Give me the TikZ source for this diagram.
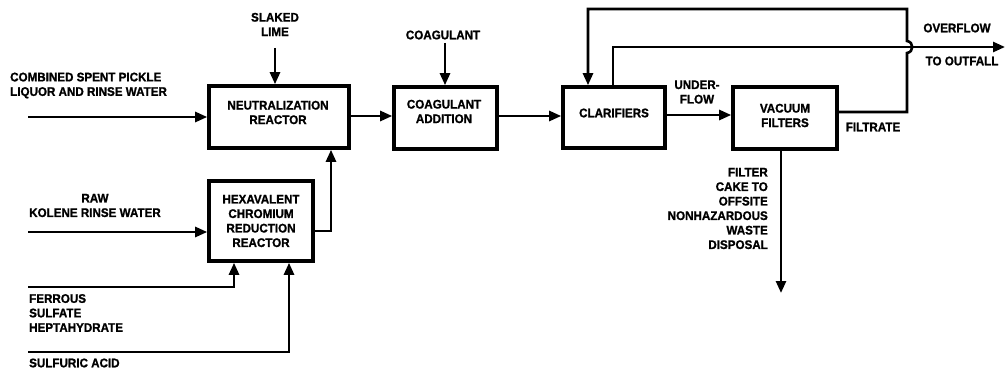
\documentclass[tikz,border=0pt]{standalone}
\usepackage{fontspec}
\setmainfont{Liberation Sans}[UprightFont={* Bold}, BoldFont={* Bold}, FakeStretch=0.93, FakeBold=1.2]
\usetikzlibrary{arrows.meta}
\begin{document}
\begin{tikzpicture}[x=1pt,y=-1pt,
  font=\fontsize{12.5}{14.5}\selectfont,
  proc/.style={draw, line width=3.6pt, inner sep=0pt},
  flow/.style={line width=2.6pt, -{Triangle[length=12pt,width=10pt]}},
  lbl/.style={inner sep=0pt, align=center},
  lbll/.style={inner sep=0pt, align=left},
  lblr/.style={inner sep=0pt, align=right},
]
\useasboundingbox (0,0) rectangle (1006,369);

% process units
\node[proc, minimum width=140pt, minimum height=62pt] (neut) at (279,117) {};
\node[proc, minimum width=103pt, minimum height=62pt] (coag) at (445.5,118) {};
\node[proc, minimum width=102pt, minimum height=61pt] (clar) at (614,117.5) {};
\node[proc, minimum width=104pt, minimum height=62pt] (vac) at (785,118) {};
\node[proc, minimum width=104pt, minimum height=80pt] (hex) at (261,221) {};

% unit captions
\node[lbl] (neut-t) at (278,112.5) {NEUTRALIZATION\\REACTOR};
\node[lbl] (coag-t) at (444,111.5) {COAGULANT\\ADDITION};
\node[lbl] (clar-t) at (614,113) {CLARIFIERS};
\node[lbl] (vac-t) at (785,115.5) {VACUUM\\FILTERS};
\node[lbl] (hex-t) at (261,221) {HEXAVALENT\\CHROMIUM\\REDUCTION\\REACTOR};

% stream labels
\node[lbll, anchor=west] (csp-l) at (10,85.5) {COMBINED SPENT PICKLE\\LIQUOR AND RINSE WATER};
\node[lbl] (lime-l) at (275,24.5) {SLAKED\\LIME};
\node[lbl] (coagin-l) at (443,35) {COAGULANT};
\node[lbl] (raw-l) at (95,205.5) {RAW\\KOLENE RINSE WATER};
\node[lbll, anchor=west] (fe-l) at (29,313) {FERROUS\\SULFATE\\HEPTAHYDRATE};
\node[lbll, anchor=west] (acid-l) at (29,363) {SULFURIC ACID};
\node[lbl] (under-l) at (697,92) {UNDER-\\FLOW};
\node[lbl] (over-l) at (957,28) {OVERFLOW};
\node[lbl] (out-l) at (962,61) {TO OUTFALL};
\node[lbl] (filt-l) at (873,127) {FILTRATE};
\node[lblr, anchor=east] (cake-l) at (768,208.5) {FILTER\\CAKE TO\\OFFSITE\\NONHAZARDOUS\\WASTE\\DISPOSAL};

% feed streams
\coordinate (cspIn) at (28,117);
\draw[flow] (cspIn) -- (cspIn -| neut.west);
\coordinate (limeIn) at (275,48);
\draw[flow] (limeIn) -- (limeIn |- neut.north);
\coordinate (coagIn) at (445,43);
\draw[flow] (coagIn) -- (coagIn |- coag.north);
\coordinate (rawIn) at (28,232);
\draw[flow] (rawIn) -- (rawIn -| hex.west);
\coordinate (feIn) at (28,287);
\coordinate (feUp) at (234,287);
\draw[flow] (feIn) -- (feUp) -- (feUp |- hex.south);
\coordinate (acidIn) at (28,352);
\coordinate (acidUp) at (289,352);
\draw[flow] (acidIn) -- (acidUp) -- (acidUp |- hex.south);

% main train
\coordinate (hexUp) at (331,231);
\draw[flow] (hex.east |- hexUp) -- (hexUp) -- (hexUp |- neut.south);
\draw[flow] (neut.east |- 0,116) -- (coag.west |- 0,116);
\draw[flow] (coag.east |- 0,116) -- (clar.west |- 0,116);
\draw[flow] (clar.east |- 0,115) -- (vac.west |- 0,115);

% filtrate recycle to clarifiers, hopping over the overflow line
\coordinate (fA) at (907,112);
\coordinate (fB) at (907,9);
\coordinate (fC) at (588,9);
\draw[flow] (vac.east |- fA) -- (fA) -- (907,53)
  .. controls (914,52) and (914,42) .. (907,41)
  -- (fB) -- (fC) -- (fC |- clar.north);

% overflow to outfall
\coordinate (ovA) at (613,47);
\coordinate (ovOut) at (1005,47);
\draw[flow] (ovA |- clar.north) -- (ovA) -- (ovOut);

% filter cake
\coordinate (cakeOut) at (781,293);
\draw[flow] (cakeOut |- vac.south) -- (cakeOut);
\end{tikzpicture}
\end{document}
